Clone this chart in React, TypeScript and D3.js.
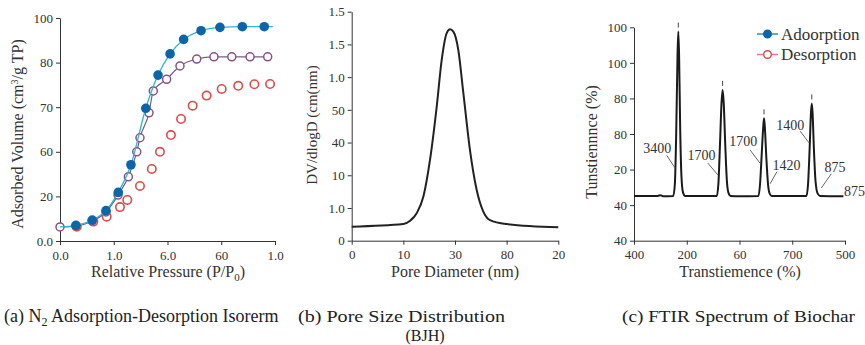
import React, { useEffect, useRef } from 'react';
import * as d3 from 'd3';

// ---- (a) N2 isotherm: tick labels sit on evenly spaced positions
const isoXLabels = ['0.0', '1.0', '6.0', '60', '1.0'];
const isoYLabels = ['0.0', '20', '60', '70', '80', '100'];

const adsX = [0, 0.074, 0.15, 0.214, 0.271, 0.33, 0.399, 0.456, 0.512, 0.575, 0.656, 0.744, 0.848, 0.95];
const adsY = [6.3, 7.0, 9.4, 13.6, 21.8, 34.2, 59.5, 74.4, 83.9, 90.4, 94.3, 95.8, 96.1, 96.1];

const purpleX = [0, 0.074, 0.149, 0.214, 0.27, 0.318, 0.357, 0.372, 0.414, 0.434, 0.496, 0.558, 0.636, 0.716, 0.799, 0.884, 0.966];
const purpleY = [6.3, 6.7, 9.0, 13.0, 20.6, 28.8, 40.0, 46.3, 57.5, 67.3, 72.5, 78.5, 81.6, 82.6, 82.6, 82.6, 82.6];

const desX = [0.078, 0.155, 0.217, 0.279, 0.313, 0.372, 0.427, 0.465, 0.516, 0.563, 0.617, 0.682, 0.752, 0.829, 0.904, 0.977];
const desY = [6.4, 8.7, 10.9, 15.2, 18.4, 24.7, 32.3, 40.0, 47.5, 54.7, 60.7, 65.2, 68.2, 69.6, 70.3, 70.4];

// ---- (b) BJH pore size distribution
const poreXLabels = ['0', '10', '30', '80', '20'];
const poreYLabels = ['0', '1.0', '10', '40', '50', '1.0', '1.5', '1.5'];
const poreX = [0, 5, 5.65, 6.29, 6.94, 7.58, 8.23, 8.71, 9.19, 9.52, 9.84, 10.32, 10.81, 11.45, 12.1, 12.74, 13.39, 15, 20];
const poreY = [0.43, 0.51, 0.61, 0.84, 1.35, 2.47, 4.1, 5.52, 6.34, 6.46, 6.39, 5.83, 4.51, 2.77, 1.55, 0.89, 0.63, 0.51, 0.41];

// ---- (c) FTIR spectrum
const ftirXLabels = ['400', '200', '60', '700', '500'];
const ftirYLabels = ['40', '40', '20', '80', '80', '100', '100'];
const ftirX = [0, 0.3, 0.45, 0.5, 0.55, 0.745, 0.775, 0.8, 0.825, 0.84, 0.855, 0.875, 0.9, 0.93, 0.97, 1.2,
  1.57, 1.6, 1.63, 1.66, 1.68, 1.7, 1.73, 1.76, 1.79, 1.83, 2.0,
  2.36, 2.39, 2.42, 2.45, 2.465, 2.48, 2.51, 2.54, 2.57, 2.61, 3.0,
  3.27, 3.3, 3.33, 3.355, 3.37, 3.385, 3.41, 3.44, 3.48, 3.53, 3.97];
const ftirY = [1.26, 1.26, 1.26, 1.28, 1.25, 1.26, 1.6, 3.0, 5.2, 5.88, 5.2, 3.2, 1.8, 1.35, 1.26, 1.26,
  1.26, 1.6, 2.7, 3.9, 4.24, 3.9, 2.7, 1.7, 1.35, 1.26, 1.25,
  1.26, 1.6, 2.4, 3.2, 3.44, 3.2, 2.3, 1.6, 1.33, 1.26, 1.26,
  1.26, 1.6, 2.6, 3.6, 3.86, 3.6, 2.6, 1.7, 1.33, 1.26, 1.25];
const peakX = [0.84, 1.68, 2.465, 3.37];
const peakY = [5.88, 4.24, 3.44, 3.86];

const noteText = ['3400', '1700', '1700', '1420', '1400', '875'];
const noteX = [0.44, 1.28, 2.07, 2.89, 2.96, 3.81];
const noteY = [2.6, 2.41, 2.79, 2.13, 3.25, 2.08];
const leadX1 = [0.62, 1.4, 2.2, 2.71, 3.15, 3.74];
const leadY1 = [2.4, 2.18, 2.55, 1.94, 3.08, 1.88];
const leadX2 = [0.78, 1.59, 2.39, 2.58, 3.32, 3.55];
const leadY2 = [2.04, 1.85, 2.18, 1.6, 2.75, 1.48];

const serif = '"Liberation Serif", "DejaVu Serif", serif';
const axisColor = '#333';

function drawAxes(g, x, y, xTicks, yTicks, xLabels, yLabels) {
  const xa = g.append('g')
    .attr('transform', `translate(0,${y.range()[0]})`)
    .call(d3.axisBottom(x).tickValues(xTicks).tickSize(4).tickSizeOuter(0)
      .tickFormat((d, i) => xLabels[i]));
  const ya = g.append('g')
    .attr('transform', `translate(${x.range()[0]},0)`)
    .call(d3.axisLeft(y).tickValues(yTicks).tickSize(4).tickSizeOuter(0)
      .tickFormat((d, i) => yLabels[i]));
  [xa, ya].forEach(a => {
    a.selectAll('path,line').attr('stroke', axisColor);
    a.selectAll('text').attr('font-family', serif).attr('font-size', 13).attr('fill', '#333');
  });
  xa.selectAll('text').attr('dy', '0.9em');
}

export default function App() {
  const ref = useRef(null);

  useEffect(() => {
    const svg = d3.select(ref.current);
    svg.selectAll('*').remove();

    // ---------- (a)
    const ax = d3.scaleLinear().domain([0, 1]).range([60, 275]);
    const ay = d3.scaleLinear().domain([0, 100]).range([241, 18]);
    const ga = svg.append('g');
    drawAxes(ga, ax, ay, d3.range(5).map(i => i / 4), d3.range(6).map(i => i * 20), isoXLabels, isoYLabels);

    const lineA = d3.line().curve(d3.curveMonotoneX).x(d => ax(d[0])).y(d => ay(d[1]));
    const purple = purpleX.map((v, i) => [v, purpleY[i]]);
    const ads = adsX.map((v, i) => [v, adsY[i]]);
    const des = desX.map((v, i) => [v, desY[i]]);

    ga.append('path').attr('d', lineA(purple)).attr('fill', 'none').attr('stroke', '#6f5f8c').attr('stroke-width', 1.2);
    ga.selectAll('.pur').data(purple).enter().append('circle')
      .attr('cx', d => ax(d[0])).attr('cy', d => ay(d[1])).attr('r', 4)
      .attr('fill', '#fff').attr('stroke', '#8a5283').attr('stroke-width', 1.5);
    ga.selectAll('.des').data(des).enter().append('circle')
      .attr('cx', d => ax(d[0])).attr('cy', d => ay(d[1])).attr('r', 4.2)
      .attr('fill', 'none').attr('stroke', '#e04a4a').attr('stroke-width', 1.6);
    ga.append('path').attr('d', lineA([...ads, [0.99, 96.1]])).attr('fill', 'none').attr('stroke', '#2fb3d3').attr('stroke-width', 1.3);
    ga.selectAll('.ads').data(ads.slice(1)).enter().append('circle')
      .attr('cx', d => ax(d[0])).attr('cy', d => ay(d[1])).attr('r', 4.8)
      .attr('fill', '#0b65a8');

    ga.append('text').attr('x', 168).attr('y', 277).attr('text-anchor', 'middle')
      .attr('font-family', serif).attr('font-size', 16).attr('fill', '#333')
      .html('Relative Pressure (P/P<tspan font-size="11" dy="4">0</tspan><tspan dy="-4">)</tspan>');
    ga.append('text').attr('transform', 'translate(23,134) rotate(-90)').attr('text-anchor', 'middle')
      .attr('font-family', serif).attr('font-size', 16).attr('fill', '#333')
      .html('Adsorbed Volume (cm<tspan font-size="10" dy="-5">3</tspan><tspan dy="5">/g TP)</tspan>');

    // ---------- (b)
    const bx = d3.scaleLinear().domain([0, 20]).range([351.7, 558.3]);
    const by = d3.scaleLinear().domain([0, 7]).range([240.7, 11.7]);
    const gb = svg.append('g');
    drawAxes(gb, bx, by, d3.range(5).map(i => i * 5), d3.range(8), poreXLabels, poreYLabels);
    const lineB = d3.line().curve(d3.curveMonotoneX).x(d => bx(d[0])).y(d => by(d[1]));
    gb.append('path').attr('d', lineB(poreX.map((v, i) => [v, poreY[i]])))
      .attr('fill', 'none').attr('stroke', '#222').attr('stroke-width', 2);
    gb.append('text').attr('x', 455).attr('y', 277).attr('text-anchor', 'middle')
      .attr('font-family', serif).attr('font-size', 16).attr('fill', '#333').text('Pore Diameter (nm)');
    gb.append('text').attr('transform', 'translate(317,125) rotate(-90)').attr('text-anchor', 'middle')
      .attr('font-family', serif).attr('font-size', 15).attr('fill', '#333').text('DV/dlogD (cm(nm)');

    // ---------- (c)
    const cx = d3.scaleLinear().domain([0, 4]).range([634, 845]);
    const cy = d3.scaleLinear().domain([0, 6]).range([240.7, 27.3]);
    const gc = svg.append('g');
    drawAxes(gc, cx, cy, d3.range(5), d3.range(7), ftirXLabels, ftirYLabels);
    const lineC = d3.line().curve(d3.curveMonotoneX).x(d => cx(d[0])).y(d => cy(d[1]));
    gc.append('path').attr('d', lineC(ftirX.map((v, i) => [v, ftirY[i]])))
      .attr('fill', 'none').attr('stroke', '#1a1a1a').attr('stroke-width', 2);
    gc.selectAll('.pk').data(peakX).enter().append('line')
      .attr('x1', d => cx(d)).attr('x2', d => cx(d))
      .attr('y1', (d, i) => cy(peakY[i]) - 9).attr('y2', (d, i) => cy(peakY[i]) - 4)
      .attr('stroke', '#444').attr('stroke-width', 1);
    gc.selectAll('.lead').data(noteText).enter().append('line')
      .attr('x1', (d, i) => cx(leadX1[i])).attr('y1', (d, i) => cy(leadY1[i]))
      .attr('x2', (d, i) => cx(leadX2[i])).attr('y2', (d, i) => cy(leadY2[i]))
      .attr('stroke', '#555').attr('stroke-width', 0.9);
    gc.selectAll('.note').data(noteText).enter().append('text')
      .attr('x', (d, i) => cx(noteX[i])).attr('y', (d, i) => cy(noteY[i]))
      .attr('dy', '0.35em').attr('text-anchor', 'middle')
      .attr('font-family', serif).attr('font-size', 14).attr('fill', '#333').text(d => d);
    gc.append('text').attr('x', cx(4) - 1).attr('y', cy(1.4)).attr('dy', '0.35em')
      .attr('font-family', serif).attr('font-size', 14).attr('fill', '#333').text('875');

    gc.append('text').attr('x', 740).attr('y', 277).attr('text-anchor', 'middle')
      .attr('font-family', serif).attr('font-size', 16).attr('fill', '#333').text('Transtiemence (%)');
    gc.append('text').attr('transform', 'translate(597,142) rotate(-90)').attr('text-anchor', 'middle')
      .attr('font-family', serif).attr('font-size', 16).attr('fill', '#333').text('Tunstiennnce (%)');

    // legend
    const legend = [
      { name: 'Adoorption', line: '#2a8fc0', fill: '#0b65a8', stroke: '#0b65a8' },
      { name: 'Desorption', line: '#e77a86', fill: '#fff', stroke: '#e04a4a' },
    ];
    const lg = gc.selectAll('.lg').data(legend).enter().append('g')
      .attr('transform', (d, i) => `translate(757,${34 + i * 20.5})`);
    lg.append('line').attr('x1', 0).attr('x2', 21).attr('stroke', d => d.line).attr('stroke-width', 1.5);
    lg.append('circle').attr('cx', 10.5).attr('r', 3.8).attr('fill', d => d.fill)
      .attr('stroke', d => d.stroke).attr('stroke-width', 1.4);
    lg.append('text').attr('x', 24).attr('dy', '0.35em').attr('font-family', serif)
      .attr('font-size', 17).attr('fill', '#333').text(d => d.name);

    // captions
    const cap = svg.append('g').attr('font-family', serif).attr('font-size', 17).attr('fill', '#222');
    cap.append('text').attr('x', 4).attr('y', 322).attr('font-size', 18)
      .html('(a) N<tspan font-size="12" dy="4">2</tspan><tspan dy="-4"> Adsorption-Desorption Isorerm</tspan>');
    cap.append('text').attr('x', 298).attr('y', 322).attr('textLength', 207).attr('lengthAdjust', 'spacingAndGlyphs')
      .text('(b) Pore Size Distribution');
    cap.append('text').attr('x', 425).attr('y', 341).attr('font-size', 16).attr('text-anchor', 'middle').text('(BJH)');
    cap.append('text').attr('x', 622).attr('y', 322).attr('textLength', 233).attr('lengthAdjust', 'spacingAndGlyphs')
      .text('(c) FTIR Spectrum of Biochar');
  }, []);

  return (
    <div style={{ position: 'absolute', left: 0, top: 0 }}>
      <svg ref={ref} width={865} height={345} style={{ display: 'block', background: '#fff' }} />
    </div>
  );
}
